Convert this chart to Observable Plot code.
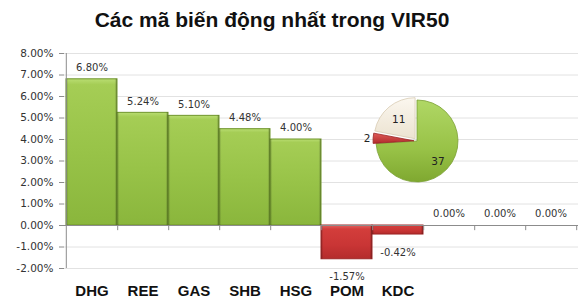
<!DOCTYPE html>
<html><head><meta charset="utf-8">
<script src="https://cdn.jsdelivr.net/npm/d3@7"></script>
<script src="https://cdn.jsdelivr.net/npm/@observablehq/plot@0.6"></script>
<style>
body{margin:0;background:#fff;}
#title{width:544px;text-align:center;font:bold 21px "Liberation Sans",Arial,sans-serif;height:40px;box-sizing:border-box;padding-top:8px;line-height:24px;color:#111;}
</style></head><body>
<div id="title">Các mã biến động nhất trong VIR50</div>
<div id="chart"></div>
<script>
const categories = ["DHG","REE","GAS","SHB","HSG","POM","KDC","","",""];
const values = [6.80, 5.24, 5.10, 4.48, 4.00, -1.57, -0.42, 0, 0, 0];
const yTicks = [-2,-1,0,1,2,3,4,5,6,7,8];
const pieValues = [37, 2, 11];
const pieLabels = ["37", "2", "11"];
const pieFills = ["url(#pieGreen)", "url(#pieRed)", "url(#pieCream)"];

const data = values.map((v, i) => ({i, name: categories[i], value: v}));
const W = 584, H = 266, mL = 64, mR = 6, mT = 13, mB = 38;
const bw = (W - mL - mR) / categories.length;

function gradients() {
  const g = d3.create("svg:g");
  const defs = g.append("defs");
  const lin = (id, stops, vertical = true) => {
    const lg = defs.append("linearGradient").attr("id", id)
      .attr("x1", 0).attr("y1", 0).attr("x2", vertical ? 0 : 1).attr("y2", vertical ? 1 : 0);
    stops.forEach(([o, c, a = 1]) => lg.append("stop").attr("offset", o).attr("stop-color", c).attr("stop-opacity", a));
  };
  lin("gGreen", [[0, "#b9dd72"], [0.04, "#a5cd55"], [0.5, "#98c348"], [1, "#8ab63c"]]);
  lin("gRed", [[0, "#e36461"], [0.12, "#d33d3b"], [0.6, "#c93535"], [1, "#b42b2b"]]);
  lin("edge", [[0, "#000", 0.22], [0.05, "#000", 0.0], [0.95, "#000", 0], [1, "#000", 0.25]], false);
  lin("pieGreen", [[0, "#b0d765"], [0.6, "#98c247"], [1, "#7fa830"]]);
  lin("pieRed", [[0, "#e05b58"], [1, "#b12c2c"]]);
  lin("pieCream", [[0, "#fbf7ef"], [1, "#ece3d1"]]);
  return g.node();
}

function pie(index, scales, vals, dims) {
  const g = d3.create("svg:g");
  const cx = dims.width - 167, cy = 101, r = 41;
  const arcs = d3.pie().sort(null).value(d => d)(pieValues);
  const arc = d3.arc().innerRadius(0).outerRadius(r);
  arcs.forEach((a, k) => {
    const mid = (a.startAngle + a.endAngle) / 2;
    const off = k === 0 ? 0 : 3;
    const ox = Math.sin(mid) * off, oy = -Math.cos(mid) * off;
    g.append("path").attr("d", arc(a))
      .attr("transform", `translate(${cx + ox},${cy + oy})`)
      .attr("fill", pieFills[k]).attr("stroke", k === 0 ? "#7a9f33" : k === 1 ? "#9a2525" : "#d8ccb4")
      .attr("stroke-width", 0.8);
    const lr = k === 1 ? r + 9 : r * 0.7;
    g.append("text")
      .attr("x", cx + Math.sin(mid) * lr).attr("y", cy - Math.cos(mid) * lr)
      .attr("text-anchor", "middle").attr("dominant-baseline", "central")
      .attr("font-family", "DejaVu Sans").attr("font-size", 10.5).attr("fill", "#222")
      .text(pieLabels[k]);
  });
  return g.node();
}

const chart = Plot.plot({
  width: W, height: H,
  marginLeft: mL, marginRight: mR, marginTop: mT, marginBottom: mB,
  style: {fontFamily: "DejaVu Sans", background: "#fff", color: "#333"},
  x: {type: "band", domain: d3.range(categories.length), padding: 0, label: null},
  y: {domain: [-2, 8], label: null},
  marks: [
    gradients,
    Plot.gridY(yTicks, {stroke: "#e2e2e2", strokeOpacity: 1}),
    Plot.barY(data.filter(d => d.value > 0), {x: "i", y: "value", fill: "url(#gGreen)", stroke: "#6f952b", strokeWidth: 1}),
    Plot.barY(data.filter(d => d.value < 0), {x: "i", y: "value", fill: "url(#gRed)", stroke: "#9e2626", strokeWidth: 1}),
    Plot.barY(data.filter(d => d.value !== 0), {x: "i", y: "value", fill: "url(#edge)"}),
    Plot.ruleY([0], {stroke: "#8c8c8c"}),
    Plot.ruleX([0], {x: d => d, y1: -2, y2: 8, dx: -bw / 2, stroke: "#8c8c8c"}),
    Plot.ruleX(d3.range(categories.length), {x: d => d, y1: 0, y2: -0.24, dx: bw / 2, stroke: "#8c8c8c"}),
    Plot.axisY({ticks: yTicks, tickFormat: d => d.toFixed(2) + "%", tickSize: 5, tickPadding: 6, fontSize: 10.5, stroke: "#8c8c8c", color: "#333", label: null}),
    Plot.axisX({tickSize: 0, tickPadding: 17, tickFormat: i => categories[i], fontSize: 15, fontWeight: "bold", fontFamily: "Liberation Sans", color: "#111", label: null}),
    Plot.text(data.filter(d => d.value >= 0), {x: "i", y: "value", text: d => d.value.toFixed(2) + "%", dy: -11.5, fontSize: 10, fill: "#333"}),
    Plot.text(data.filter(d => d.value < 0), {x: "i", y: "value", text: d => d.value.toFixed(2) + "%", dy: 18, fontSize: 10, fill: "#333"}),
    pie
  ]
});
document.getElementById("chart").appendChild(chart);
</script>
</body></html>
